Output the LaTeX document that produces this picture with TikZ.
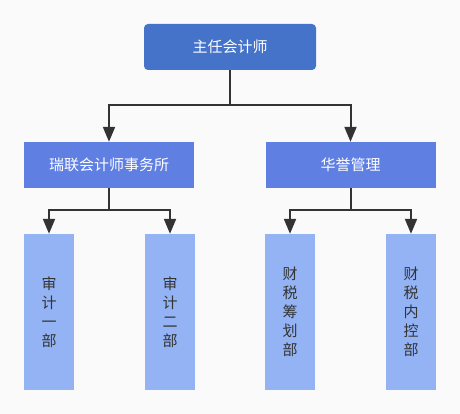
\documentclass[tikz,border=0pt]{standalone}
\usepackage{fontspec}
\setmainfont{Noto Sans CJK SC}
\usetikzlibrary{arrows.meta}
\definecolor{bgcol}{HTML}{FAFAFA}
\definecolor{headblue}{HTML}{4673CA}
\definecolor{midblue}{HTML}{5F7FE3}
\definecolor{deptblue}{HTML}{93B3F4}
\definecolor{linegray}{HTML}{333333}

\begin{document}
\begin{tikzpicture}[x=1pt, y=-1pt, >={Triangle[length=15pt,width=12pt]},
   head/.style={fill=headblue, rounded corners=4pt, minimum width=172pt, minimum height=46pt,
     text=white, font=\fontsize{15}{18}\selectfont},
   mid/.style={fill=midblue, minimum width=170pt, minimum height=46pt,
     text=white, font=\fontsize{15}{18}\selectfont},
   dept/.style={fill=deptblue, minimum width=50pt, minimum height=156pt, align=center,
     text=linegray, font=\fontsize{15}{19}\selectfont},
   link/.style={draw=linegray, line width=2pt, ->}
   ]
   \fill[bgcol] (0,0) rectangle (460,414);
   \useasboundingbox (0,0) rectangle (460,414);

   % top
   \path (230,47) node[head] (ceo) {主任会计师};

   % second level
   \path (109,165) node[mid] (rl) {瑞联会计师事务所}
   (350.5,165) node[mid] (hy) {华誉管理};

   % departments
   \path (49,312) node[dept] (sj1) {审\\计\\一\\部}
   (170,312) node[dept] (sj2) {审\\计\\二\\部};
   \path (290,312) node[dept] (cs1) {财\\税\\筹\\划\\部}
   (411,312) node[dept] (cs2) {财\\税\\内\\控\\部};

   \draw[link] (ceo.south) -- ++(0,35) -| (rl.north);
   \draw[link] (ceo.south) -- ++(0,35) -| (hy.north);

   \draw[link] (rl.south) -- ++(0,22) -| (sj1.north);
   \draw[link] (rl.south) -- ++(0,22) -| (sj2.north);

   \draw[link] (hy.south) -- ++(0,22) -| (cs1.north);
   \draw[link] (hy.south) -- ++(0,22) -| (cs2.north);

\end{tikzpicture}
\end{document}
